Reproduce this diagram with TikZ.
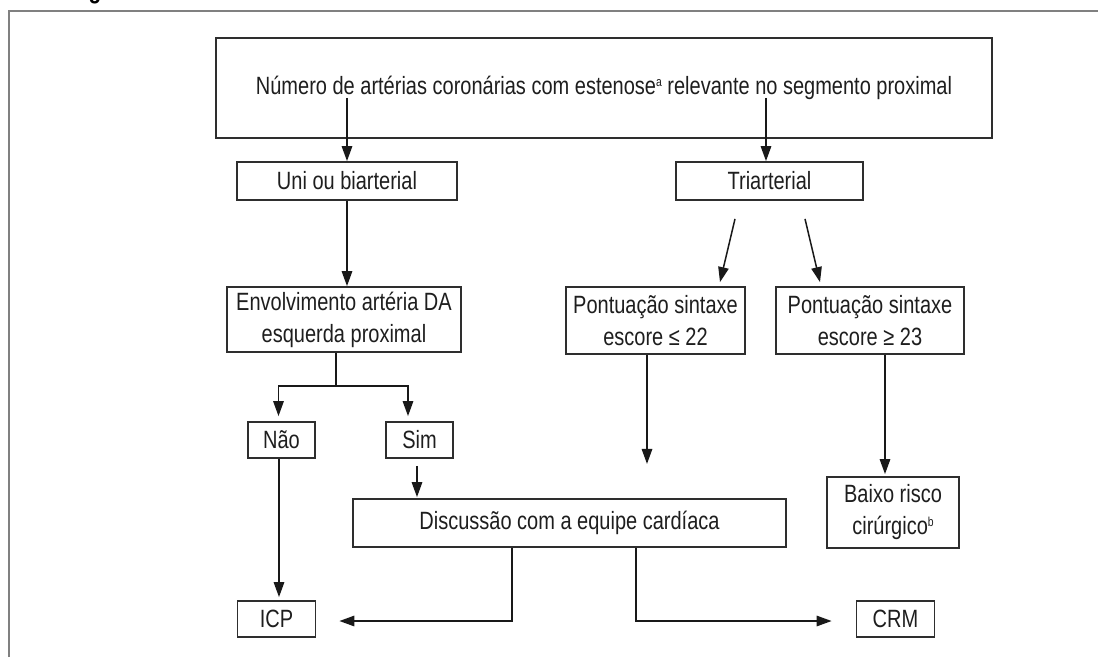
\documentclass[tikz,border=0pt]{standalone}
\usepackage{fontspec}
\setmainfont{Liberation Sans}[FakeStretch=0.8]
\usetikzlibrary{arrows.meta,calc}
\definecolor{boxc}{HTML}{2E2E2E}
\definecolor{framec}{HTML}{808080}
\definecolor{txtc}{HTML}{1E1E1E}
\newcommand{\supsm}[1]{\raisebox{8pt}{\fontsize{13}{13}\selectfont #1}}
\begin{document}
\begin{tikzpicture}[x=1pt,y=-1pt,
  box/.style={draw=boxc,line width=1.8pt,inner sep=0pt,text=txtc,font=\fontsize{25}{32}\selectfont,align=center},
  arr/.style={draw=black!90,line width=1.5pt,-{Triangle[length=15pt,width=10.5pt]}},
  ln/.style={draw=black!90,line width=1.5pt}]
\useasboundingbox (0,0) rectangle (1098,657);
\begin{scope}
\clip (0,0) rectangle (1098,657);
\node[font=\bfseries\fontsize{26}{30}\selectfont,anchor=base,inner sep=0pt] (gfrag) at (95,-2) {g};
\end{scope}
\draw[framec,line width=2.5pt] (9,657) -- (9,11) -- (1098,11);

% nodes
\node[box,minimum width=776pt,minimum height=100pt] (top) at (604,88)
  {\raisebox{-5pt}{Número de artérias coronárias com estenose\supsm{a} relevante no segmento proximal}};
\node[box,minimum width=220pt,minimum height=38pt] (uni) at (347,181) {Uni ou biarterial};
\node[box,minimum width=187pt,minimum height=38pt] (tri) at (769.5,181) {Triarterial};
\node[box,minimum width=234pt,minimum height=65pt] (env) at (344,319.5) {Envolvimento artéria DA\\esquerda proximal};
\node[box,minimum width=179pt,minimum height=67pt] (p22) at (655.5,320.5) {Pontuação sintaxe\\escore ≤ 22};
\node[box,minimum width=188pt,minimum height=67pt] (p23) at (870,320.5) {Pontuação sintaxe\\escore ≥ 23};
\node[box,minimum width=67pt,minimum height=36pt] (nao) at (281.5,440) {Não};
\node[box,minimum width=67pt,minimum height=36pt] (sim) at (419.5,440) {Sim};
\node[box,minimum width=433pt,minimum height=48pt] (disc) at (569.5,523) {Discussão com a equipe cardíaca};
\node[box,minimum width=132pt,minimum height=71pt] (baixo) at (893,512.5) {Baixo risco\\cirúrgico\supsm{b}};
\node[box,minimum width=78pt,minimum height=36pt] (icp) at (276.5,619) {ICP};
\node[box,minimum width=78pt,minimum height=36pt] (crm) at (895.5,619) {CRM};

% connectors
\draw[arr] ([yshift=41pt]top.south -| uni.north) -- (uni.north);
\draw[arr] ([xshift=-3.5pt,yshift=41pt]top.south -| tri.north) -- ([xshift=-3.5pt]tri.north);
\draw[arr] (uni.south) -- (uni.south |- env.north);
\draw[arr] ([xshift=-34.5pt,yshift=-18pt]tri.south) -- ([xshift=64.5pt,yshift=4pt]p22.north);
\draw[arr] ([xshift=35.5pt,yshift=-18pt]tri.south) -- ([xshift=-50pt,yshift=4pt]p23.north);
\coordinate (split) at ($(env.south)+(-8,33)$);
\draw[ln] ([xshift=-8pt]env.south) -- (split);
\draw[arr] (split) -| ([xshift=-3pt,yshift=5pt]nao.north);
\draw[arr] (split) -| ([xshift=-11.5pt,yshift=5pt]sim.north);
\coordinate (p22end) at ($(p22.south)+(-8.5,109)$);
\draw[arr] ([xshift=-8.5pt]p22.south) -- (p22end);
\draw[arr] ([xshift=15pt]p23.south) -- ([xshift=-8pt,yshift=2pt]baixo.north);
\draw[arr] ([xshift=-2.5pt]nao.south) -- ([xshift=2.5pt,yshift=3pt]icp.north);
\draw[arr] ([xshift=-2.5pt,yshift=-7pt]sim.south) -- ([xshift=-2.5pt,yshift=1pt]sim.south |- disc.north);
\draw[arr] ([xshift=-57.5pt]disc.south) |- ([xshift=23pt,yshift=-2pt]icp.east);
\draw[arr] ([xshift=66.5pt]disc.south) |- ([xshift=-24pt,yshift=-2pt]crm.west);
\end{tikzpicture}
\end{document}
